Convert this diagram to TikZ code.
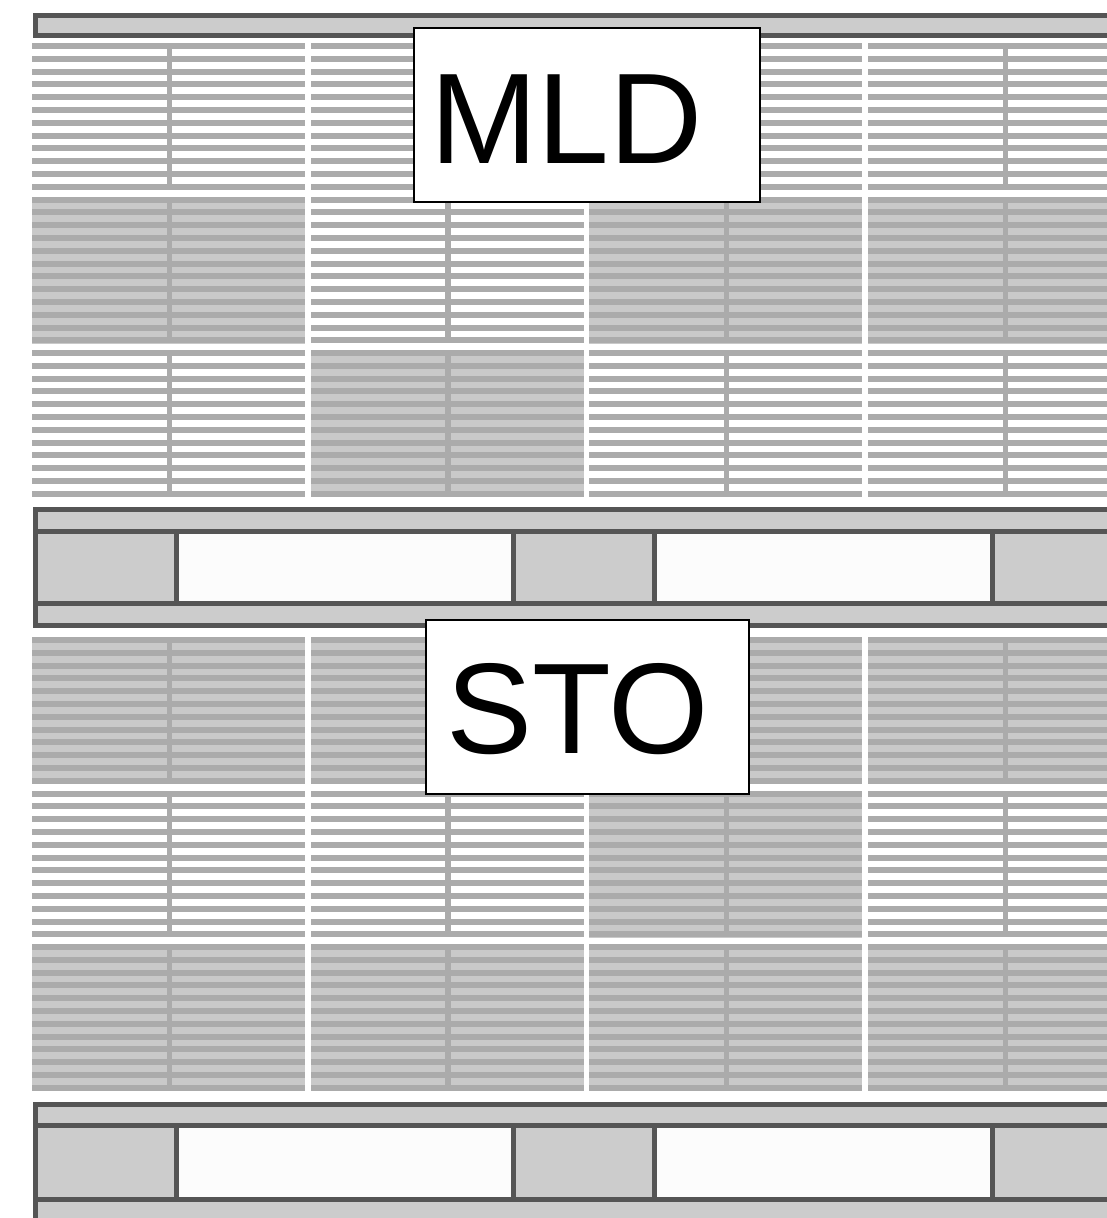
\documentclass[tikz,border=0pt]{standalone}
\usepackage{fontspec}
\setmainfont{Liberation Sans}
\definecolor{stripegray}{HTML}{ABABAB}
\definecolor{blockgray}{HTML}{C9C9C9}
\definecolor{barfillc}{HTML}{CCCCCC}
\definecolor{barlinec}{HTML}{555555}
\definecolor{cellwhite}{HTML}{FCFCFC}
\tikzset{
  stripe/.style={fill=stripegray},
  gblock/.style={fill=blockgray},
  midline/.style={fill=stripegray},
  barfill/.style={fill=barfillc},
  barline/.style={draw=barlinec, line width=5pt},
  cellw/.style={fill=cellwhite},
  labelbox/.style={draw=black, fill=white, line width=1.5pt, inner sep=0pt},
  labeltext/.style={inner sep=0pt, font=\fontsize{129}{129}\selectfont}
}
\begin{document}
\begin{tikzpicture}[x=1pt,y=-1pt]
\useasboundingbox (0,0) rectangle (1107,1218);
\clip (0,0) rectangle (1107,1218);
\fill[white] (0,0) rectangle (1107,1218);

% striped blocks
\foreach \ytop/\a/\b/\c/\d in {43/0/0/0/0, 196.5/1/0/1/1, 350/0/1/0/0, 637/1/1/1/1, 790.5/0/0/1/0, 944/1/1/1/1}{
  \foreach \xl/\g in {32/\a, 310.7/\b, 589.3/\c, 868/\d}{
    \ifnum\g=1 \fill[gblock] (\xl,\ytop) rectangle ++(273,147); \fi
    \foreach \k in {0,...,11}{
      \fill[stripe] (\xl,\ytop+\k*12.8) rectangle ++(273,6);
    }
    \fill[midline] (\xl+134.5,\ytop) rectangle ++(5.5,142);
  }
}

% top bar
\fill[barfill] (33,13) rectangle (1120,38);
\draw[barline] (1120,15.5) -| (35.5,35.5) -- (1120,35.5);

% middle bar
\fill[barfill] (33,507) rectangle (1120,627);
\fill[cellw] (176,531.5) rectangle (513,603.5);
\fill[cellw] (654,531.5) rectangle (992,603.5);
\draw[barline] (1120,509.5) -| (35.5,625) -- (1120,625);
\draw[barline] (35.5,531.5) -- (1120,531.5);
\draw[barline] (35.5,603.5) -- (1120,603.5);
\foreach \xd in {176,513,654,992}{
  \draw[barline] (\xd,531.5) -- (\xd,603.5);
}

% bottom bar
\fill[barfill] (33,1102) rectangle (1120,1240);
\fill[cellw] (176,1125.5) rectangle (513,1199);
\fill[cellw] (654,1125.5) rectangle (992,1199);
\draw[barline] (1120,1104.5) -| (35.5,1240);
\draw[barline] (35.5,1125.5) -- (1120,1125.5);
\draw[barline] (35.5,1199) -- (1120,1199);
\foreach \xd in {176,513,654,992}{
  \draw[barline] (\xd,1125.5) -- (\xd,1199);
}

% labels
\node[labelbox, anchor=north west, minimum width=346pt, minimum height=174pt] (mldbox) at (413,27) {};
\node[labeltext, anchor=base west] (mld) at (430,163) {MLD};
\node[labelbox, anchor=north west, minimum width=323pt, minimum height=174pt] (stobox) at (425,619) {};
\node[labeltext, anchor=base west] (sto) at (446,753) {STO};
\end{tikzpicture}
\end{document}
